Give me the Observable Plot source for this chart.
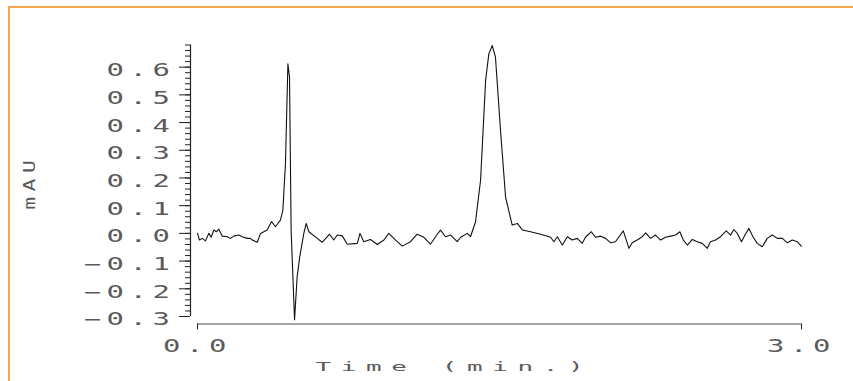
<!DOCTYPE html>
<html>
<head>
<meta charset="utf-8">
<script src="https://cdn.jsdelivr.net/npm/d3@7"></script>
<script src="https://cdn.jsdelivr.net/npm/@observablehq/plot@0.6"></script>
<style>
  html, body { margin: 0; padding: 0; background: #fff; }
  #wrap { position: relative; width: 853px; height: 381px; overflow: hidden; }
  #border { position: absolute; left: 8px; top: 6px; width: 900px; height: 400px;
            border-top: 2px solid #f7a650; border-left: 2px solid #f7a650; box-sizing: border-box; pointer-events: none; }
  svg text { font-family: "DejaVu Sans Mono", monospace; }
</style>
</head>
<body>
<div id="wrap"><div id="border"></div></div>
<script>
// Retention time (min) and absorbance (mAU)
const time = [
  0.000, 0.010, 0.023, 0.040, 0.056, 0.068, 0.081, 0.094, 0.106, 0.123,
  0.148, 0.164, 0.180, 0.205, 0.222, 0.247, 0.263, 0.272, 0.297, 0.313,
  0.346, 0.368, 0.387, 0.412, 0.424, 0.437, 0.449, 0.457, 0.465, 0.482,
  0.495, 0.508, 0.528, 0.540, 0.553, 0.595, 0.619, 0.656, 0.677, 0.694,
  0.719, 0.744, 0.794, 0.807, 0.826, 0.859, 0.893, 0.926, 0.950, 0.984,
  1.017, 1.058, 1.091, 1.124, 1.157, 1.191, 1.207, 1.232, 1.257, 1.290,
  1.307, 1.340, 1.356, 1.381, 1.406, 1.431, 1.447, 1.464, 1.480, 1.505,
  1.530, 1.563, 1.589, 1.614, 1.654, 1.704, 1.754, 1.770, 1.787, 1.812,
  1.837, 1.861, 1.886, 1.911, 1.927, 1.956, 1.977, 2.002, 2.027, 2.052,
  2.076, 2.115, 2.143, 2.159, 2.184, 2.209, 2.226, 2.250, 2.275, 2.300,
  2.325, 2.350, 2.375, 2.396, 2.413, 2.433, 2.458, 2.482, 2.507, 2.532,
  2.548, 2.573, 2.598, 2.626, 2.648, 2.664, 2.681, 2.702, 2.719, 2.739,
  2.759, 2.780, 2.805, 2.830, 2.855, 2.880, 2.905, 2.930, 2.954, 2.979,
  2.999
];
const absorbance = [
  0.000, -0.024, -0.018, -0.027, 0.000, -0.014, 0.012, 0.006, 0.015, -0.010,
  -0.012, -0.018, -0.010, -0.006, -0.012, -0.018, -0.018, -0.024, -0.032, 0.000,
  0.012, 0.043, 0.024, 0.048, 0.084, 0.253, 0.612, 0.564, 0.012, -0.312,
  -0.156, -0.084, 0.000, 0.036, 0.006, -0.018, -0.032, -0.003, -0.024, -0.006,
  -0.009, -0.039, -0.036, 0.000, -0.030, -0.022, -0.040, -0.024, 0.000, -0.024,
  -0.046, -0.030, -0.003, -0.014, -0.039, -0.003, 0.012, -0.012, -0.006, -0.030,
  -0.014, 0.000, -0.012, 0.042, 0.192, 0.552, 0.648, 0.678, 0.636, 0.372,
  0.132, 0.030, 0.036, 0.012, 0.006, -0.003, -0.014, -0.030, -0.012, -0.042,
  -0.012, -0.024, -0.018, -0.036, -0.014, 0.006, -0.014, -0.010, -0.018, -0.034,
  -0.030, 0.009, -0.054, -0.034, -0.024, -0.012, 0.002, -0.018, -0.006, -0.024,
  -0.014, -0.010, -0.006, 0.006, -0.024, -0.042, -0.022, -0.030, -0.036, -0.054,
  -0.030, -0.024, -0.012, 0.009, -0.006, 0.014, 0.000, -0.030, -0.006, 0.018,
  -0.012, -0.036, -0.048, -0.018, -0.006, -0.018, -0.018, -0.034, -0.024, -0.030,
  -0.046
];
const xDomain = [0, 3];
const yDomain = [-0.3, 0.68];
const xTicks = [0, 3];
const yMajorTicks = [-0.3, -0.2, -0.1, 0.0, 0.1, 0.2, 0.3, 0.4, 0.5, 0.6];
const yMinorTicks = d3.range(-30, 69, 2).map(v => v / 100);
const xLabel = "Time (min.)";
const yLabel = "mAU";

const trace = time.map((t, i) => ({t, v: absorbance[i]}));
const fmt = d3.format(".1f");

const chart = Plot.plot({
  width: 853,
  height: 381,
  marginLeft: 197,
  marginRight: 52,
  marginTop: 44.5,
  marginBottom: 65,
  x: {domain: xDomain},
  y: {domain: yDomain},
  style: {background: "transparent", overflow: "visible"},
  marks: [
    // y axis line (offset left of the plotting area)
    Plot.ruleX([{x: xDomain[0], y1: yDomain[0], y2: yDomain[1]}], {x: "x", y1: "y1", y2: "y2", dx: -7, stroke: "#222", strokeWidth: 1.2}),
    Plot.axisY(yMinorTicks, {tickSize: 5, dx: -7, tickFormat: () => "", label: null, stroke: "#222"}),
    Plot.axisY(yMajorTicks, {tickSize: 11, dx: -7, tickFormat: () => "", label: null, stroke: "#222"}),
    Plot.axisY(yMajorTicks, {tickSize: 0, dx: -7, dy: 3.5, tickPadding: 15, tickFormat: fmt, label: null,
      fontSize: 17, fill: "#5a5a5a"}),
    // x axis line (offset below the plotting area)
    Plot.ruleY([{y: yDomain[0], x1: xDomain[0], x2: xDomain[1]}], {y: "y", x1: "x1", x2: "x2", dy: 7.5, stroke: "#888", strokeWidth: 1.6}),
    Plot.axisX(xTicks, {tickSize: 6, dy: 7.5, tickPadding: 10, tickFormat: fmt, label: null,
      fontSize: 17, fill: "#5a5a5a", stroke: "#222"}),
    Plot.text([xLabel], {text: d => d, frameAnchor: "bottom-left", textAnchor: "start", dx: 118, dy: 54,
      fontSize: 13, fill: "#5a5a5a"}),
    Plot.text([yLabel], {text: d => d, frameAnchor: "left", rotate: -90, dx: -168, dy: 29,
      fontSize: 16.5, fill: "#5a5a5a"}),
    Plot.line(trace, {x: "t", y: "v", stroke: "#111", strokeWidth: 1.1})
  ]
});

document.getElementById("wrap").prepend(chart);

// wide, widely spaced plotter-style lettering: stretch each label horizontally about its anchor
chart.querySelectorAll("text").forEach(el => {
  const s = el.textContent;
  let sx, ls;
  if (s === xLabel) { sx = 2.0; ls = 4.8; }
  else if (s === yLabel) { sx = 1.3; ls = 4.2; }
  else { sx = 1.7; ls = 3.3; }
  const xa = el.getAttribute("x");
  let x = 0;
  if (xa !== null && isFinite(+xa)) { x = +xa; el.removeAttribute("x"); }
  el.setAttribute("transform", `${el.getAttribute("transform") || ""} translate(${x},0) scale(${sx},1)`);
  el.style.letterSpacing = ls + "px";
});
</script>
</body>
</html>
